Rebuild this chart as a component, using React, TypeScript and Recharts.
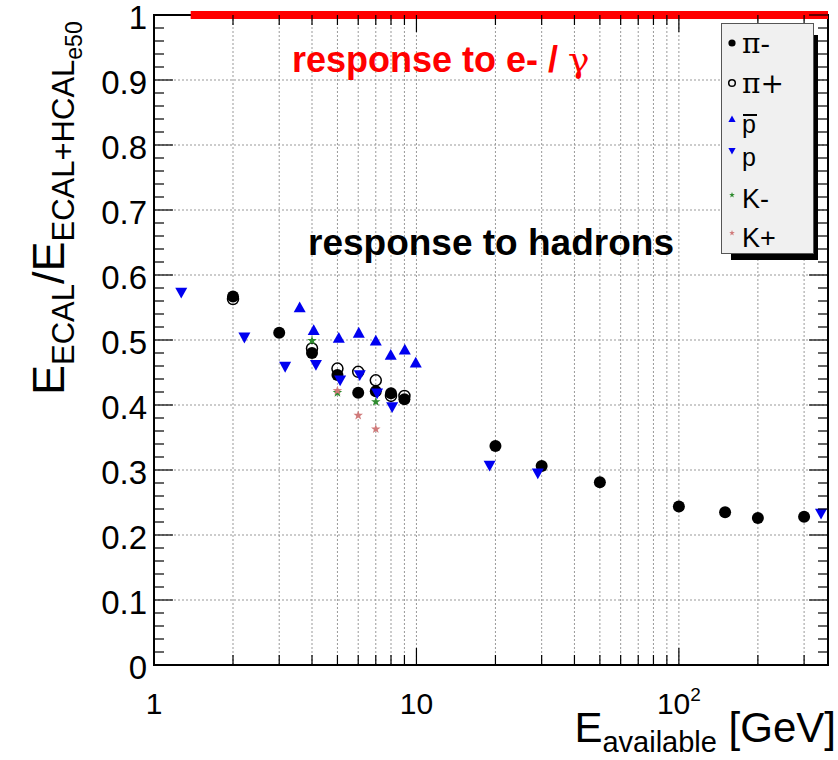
import {
  ScatterChart,
  Scatter,
  XAxis,
  YAxis,
  CartesianGrid,
  ReferenceArea,
  ReferenceLine,
  Legend,
} from 'recharts'

// beam energies (GeV) and ECAL fraction per particle type
const PI_MINUS_E = [2, 3, 4, 5, 6, 7, 8, 9, 20, 30, 50, 100, 150, 200, 300]
const PI_MINUS_R = [0.567, 0.511, 0.48, 0.446, 0.419, 0.421, 0.418, 0.409, 0.337, 0.306, 0.281, 0.244, 0.235, 0.226, 0.228]

const PI_PLUS_E = [2, 4, 5, 6, 7, 8, 9]
const PI_PLUS_R = [0.563, 0.487, 0.456, 0.451, 0.438, 0.414, 0.414]

const PBAR_E = [3.59, 4.06, 5.06, 6.03, 7.0, 7.98, 9.03, 9.94]
const PBAR_R = [0.55, 0.515, 0.503, 0.511, 0.499, 0.477, 0.485, 0.465]

const P_E = [1.27, 2.21, 3.16, 4.14, 5.12, 6.08, 7.08, 8.08, 19.0, 29.0, 348]
const P_R = [0.573, 0.504, 0.459, 0.462, 0.438, 0.446, 0.418, 0.397, 0.307, 0.295, 0.233]

const KMINUS_E = [4, 5, 7]
const KMINUS_R = [0.499, 0.419, 0.405]

const KPLUS_E = [5, 6, 7]
const KPLUS_R = [0.422, 0.384, 0.363]

// e-/gamma response line
const EM_LINE = [
  { x: 1.38, y: 1 },
  { x: 370, y: 1 },
]

const X_DOMAIN = [1, 370]
const X_TICKS = [1, 2, 3, 4, 5, 6, 7, 8, 9, 10, 20, 30, 40, 50, 60, 70, 80, 90, 100, 200, 300]
const X_MAJOR = [1, 10, 100]
const Y_MAJOR = [0, 0.1, 0.2, 0.3, 0.4, 0.5, 0.6, 0.7, 0.8, 0.9, 1]
const Y_TICKS = Array.from({ length: 51 }, (_, i) => Math.round(i * 2) / 100)

const BLUE = '#0000f0'
const GREEN = '#2e8b2e'
const PINK = '#d07a7a'
const FONT = '"Liberation Sans", Arial, Helvetica, sans-serif'

// plot frame edges
const LEFT = 154
const RIGHT = 828
const TOP = 15
const BOTTOM = 665

const toPoints = (e: number[], r: number[]) => e.map((v, i) => ({ e: v, r: r[i] }))

function tri(cx: number, cy: number, s: number, up: boolean) {
  const d = up ? 1 : -1
  return `${cx},${cy - d * s} ${cx - s},${cy + d * s * 0.8} ${cx + s},${cy + d * s * 0.8}`
}

function star(cx: number, cy: number, ro: number, ri: number) {
  const pts: string[] = []
  for (let i = 0; i < 10; i++) {
    const a = -Math.PI / 2 + (i * Math.PI) / 5
    const rr = i % 2 === 0 ? ro : ri
    pts.push(`${cx + rr * Math.cos(a)},${cy + rr * Math.sin(a)}`)
  }
  return pts.join(' ')
}

function Marker({ kind, cx, cy, small }: { kind: string; cx: number; cy: number; small?: boolean }) {
  const k = small ? 0.6 : 1
  switch (kind) {
    case 'pim':
      return <circle cx={cx} cy={cy} r={6 * k} fill="#000" />
    case 'pip':
      return <circle cx={cx} cy={cy} r={5.5 * k} fill="none" stroke="#000" strokeWidth={1.5} />
    case 'pbar':
      return <polygon points={tri(cx, cy, 6 * k, true)} fill={BLUE} />
    case 'p':
      return <polygon points={tri(cx, cy, 6 * k, false)} fill={BLUE} />
    case 'km':
      return <polygon points={star(cx, cy, 5 * k, 2 * k)} fill={GREEN} />
    default:
      return <polygon points={star(cx, cy, 5 * k, 2 * k)} fill={PINK} />
  }
}

function XTick(props: any) {
  const { x, payload } = props
  const v = payload.value
  const major = X_MAJOR.includes(v)
  const len = major ? 17 : 10
  return (
    <g>
      <line x1={x} x2={x} y1={BOTTOM} y2={BOTTOM - len} stroke="#000" strokeWidth={1.2} />
      <line x1={x} x2={x} y1={TOP} y2={TOP + len} stroke="#000" strokeWidth={1.2} />
      {major && (
        <text x={x} y={714} textAnchor="middle" fontSize={30} fontFamily={FONT} fill="#000">
          {v === 100 ? (
            <>
              10
              <tspan dy={-13} fontSize={19}>
                2
              </tspan>
            </>
          ) : (
            String(v)
          )}
        </text>
      )}
    </g>
  )
}

function YTick(props: any) {
  const { y, payload } = props
  const v = payload.value
  const major = Y_MAJOR.some((m) => Math.abs(m - v) < 1e-6)
  const len = major ? 19 : 10
  return (
    <g>
      <line x1={LEFT} x2={LEFT + len} y1={y} y2={y} stroke="#000" strokeWidth={1.2} />
      <line x1={RIGHT} x2={RIGHT - len} y1={y} y2={y} stroke="#000" strokeWidth={1.2} />
      {major && (
        <text x={147} y={y + 14} textAnchor="end" fontSize={33} fontFamily={FONT} fill="#000">
          {String(Math.round(v * 10) / 10)}
        </text>
      )}
    </g>
  )
}

const LEGEND_ITEMS = [
  { kind: 'pim', label: 'π-', my: 20, ty: 30, size: 28, serif: true },
  { kind: 'pip', label: 'π+', my: 60, ty: 70, size: 28, serif: true },
  { kind: 'pbar', label: 'p', my: 96, ty: 110, size: 25, bar: true },
  { kind: 'p', label: 'p', my: 128, ty: 143, size: 25 },
  { kind: 'km', label: 'K-', my: 172, ty: 185, size: 27 },
  { kind: 'kp', label: 'K+', my: 210, ty: 224, size: 27 },
]

function LegendBox() {
  return (
    <svg width={100} height={240} style={{ display: 'block' }}>
      <rect x={10} y={12} width={87} height={225} fill="#000" />
      <rect x={0.5} y={0.5} width={92} height={230} fill="#f0f0f0" stroke="#555" />
      {LEGEND_ITEMS.map((it) => (
        <g key={it.kind}>
          <Marker kind={it.kind} cx={11} cy={it.my} small />
          <text
            x={21}
            y={it.ty}
            fontSize={it.size}
            fontFamily={it.serif ? '"DejaVu Serif", "Liberation Serif", serif' : FONT}
            fill="#000"
          >
            {it.label}
          </text>
          {it.bar && <line x1={22} x2={36} y1={it.ty - 18} y2={it.ty - 18} stroke="#000" strokeWidth={2} />}
        </g>
      ))}
    </svg>
  )
}

export default function App() {
  return (
    <div style={{ position: 'absolute', left: 0, top: 0, background: '#fff' }}>
      <ScatterChart
        width={838}
        height={760}
        margin={{ top: TOP, right: 838 - RIGHT, bottom: 35, left: LEFT - 100 }}
      >
        <CartesianGrid
          stroke="#999"
          strokeDasharray="2 2"
          horizontalValues={Y_MAJOR.slice(1, -1)}
          verticalValues={X_TICKS.slice(1)}
        />
        <XAxis
          dataKey="e"
          type="number"
          scale="log"
          domain={X_DOMAIN}
          allowDataOverflow
          ticks={X_TICKS}
          interval={0}
          tickLine={false}
          axisLine={{ stroke: '#000', strokeWidth: 2 }}
          tick={<XTick />}
          height={60}
        />
        <YAxis
          dataKey="r"
          type="number"
          domain={[0, 1]}
          allowDataOverflow
          ticks={Y_TICKS}
          interval={0}
          tickLine={false}
          axisLine={{ stroke: '#000', strokeWidth: 2 }}
          tick={<YTick />}
          width={100}
        />
        <ReferenceArea x1={1} x2={370} y1={0} y2={1} fill="none" stroke="#000" strokeWidth={2} />
        <ReferenceLine segment={EM_LINE} stroke="#ff0000" strokeWidth={8} />
        <Scatter name="π-" data={toPoints(PI_MINUS_E, PI_MINUS_R)} isAnimationActive={false}
          shape={(p: any) => <Marker kind="pim" cx={p.cx} cy={p.cy} />} />
        <Scatter name="π+" data={toPoints(PI_PLUS_E, PI_PLUS_R)} isAnimationActive={false}
          shape={(p: any) => <Marker kind="pip" cx={p.cx} cy={p.cy} />} />
        <Scatter name="pbar" data={toPoints(PBAR_E, PBAR_R)} isAnimationActive={false}
          shape={(p: any) => <Marker kind="pbar" cx={p.cx} cy={p.cy} />} />
        <Scatter name="p" data={toPoints(P_E, P_R)} isAnimationActive={false}
          shape={(p: any) => <Marker kind="p" cx={p.cx} cy={p.cy} />} />
        <Scatter name="K-" data={toPoints(KMINUS_E, KMINUS_R)} isAnimationActive={false}
          shape={(p: any) => <Marker kind="km" cx={p.cx} cy={p.cy} />} />
        <Scatter name="K+" data={toPoints(KPLUS_E, KPLUS_R)} isAnimationActive={false}
          shape={(p: any) => <Marker kind="kp" cx={p.cx} cy={p.cy} />} />
        <Legend
          layout="vertical"
          align="center"
          verticalAlign="middle"
          content={<LegendBox />}
          wrapperStyle={{ left: 721, top: 23, width: 100, height: 240 }}
        />
        <text x={292} y={72} fontSize={36} fontWeight="bold" fontFamily={FONT} fill="#ff0000">
          response to e- /{' '}
          <tspan fontFamily='"DejaVu Serif", serif' fontWeight="normal">γ</tspan>
        </text>
        <text x={308} y={255} fontSize={37} fontWeight="bold" fontFamily={FONT} fill="#000">
          response to hadrons
        </text>
        <text transform="rotate(-90, 64, 395)" x={64} y={395} fontSize={45} fontFamily={FONT} fill="#000">
          E<tspan dy={10} fontSize={31}>ECAL</tspan>
          <tspan dy={-10} fontSize={45}>/E</tspan>
          <tspan dy={10} fontSize={31}>ECAL+HCAL</tspan>
          <tspan dy={8} fontSize={23}>e50</tspan>
        </text>
        <text x={836} y={742} textAnchor="end" fontSize={42} fontFamily={FONT} fill="#000">
          E<tspan dy={10} fontSize={29}>available</tspan>
          <tspan dy={-10}> [GeV]</tspan>
        </text>
      </ScatterChart>
    </div>
  )
}
